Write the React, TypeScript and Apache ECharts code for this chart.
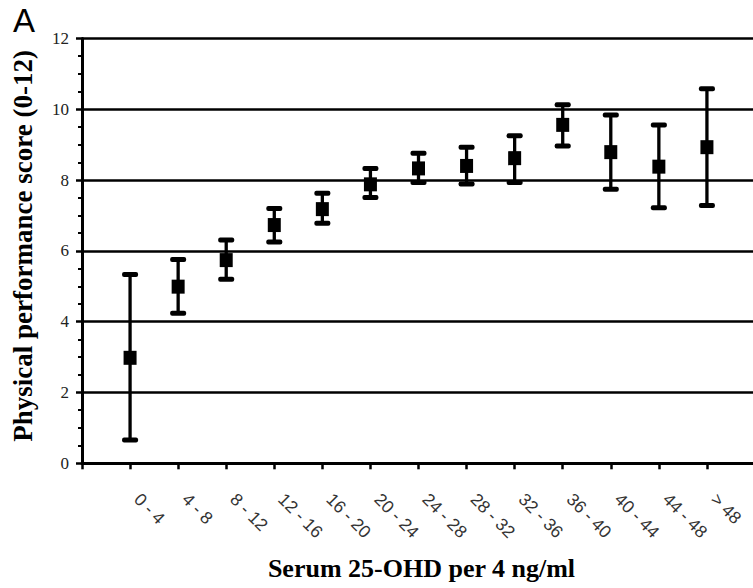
import React, { useEffect, useRef } from "react";
import * as echarts from "echarts";

const categories = ["0 - 4", "4 - 8", "8 - 12", "12 - 16", "16 - 20", "20 - 24", "24 - 28", "28 - 32", "32 - 36", "36 - 40", "40 - 44", "44 - 48", "> 48"];
const means = [2.98, 4.99, 5.74, 6.73, 7.18, 7.88, 8.33, 8.4, 8.62, 9.56, 8.79, 8.38, 8.93];
const lowers = [0.66, 4.24, 5.2, 6.25, 6.78, 7.51, 7.93, 7.89, 7.93, 8.96, 7.74, 7.22, 7.28];
const uppers = [5.33, 5.76, 6.31, 7.2, 7.63, 8.33, 8.76, 8.93, 9.25, 10.13, 9.84, 9.56, 10.58];

const yLabel = "Physical performance score (0-12)";
const xLabel = "Serum 25-OHD per 4 ng/ml";
const panelLetter = "A";

const SERIF = "Liberation Serif";
const SANS = "Liberation Sans";

export default function App() {
  const ref = useRef<HTMLDivElement>(null);
  useEffect(() => {
    if (!ref.current) return;
    const chart = echarts.init(ref.current, undefined, { renderer: "svg" });
    const option: any = {
      animation: false,
      backgroundColor: "#fff",
      graphic: [
        {
          type: "text",
          left: 13,
          top: 4,
          style: { text: panelLetter, font: `33px ${SANS}`, fill: "#000" },
        },
      ],
      grid: {
        left: 82,
        top: 38.5,
        width: 673,
        height: 424.8,
        containLabel: false,
        outerBoundsMode: "none",
      },
      xAxis: {
        type: "value",
        min: 0,
        max: 14,
        interval: 1,
        name: xLabel,
        nameLocation: "middle",
        nameGap: 92,
        nameTextStyle: { fontFamily: SERIF, fontWeight: "bold", fontSize: 26, color: "#000", padding: [0, 0, 0, 6] },
        axisLine: { show: true, onZero: false, lineStyle: { color: "#000", width: 3 } },
        axisTick: { show: true, length: 6, lineStyle: { color: "#000", width: 2.5 } },
        splitLine: { show: false },
        axisLabel: {
          rotate: -45,
          margin: 26,
          padding: [0, 0, 0, 10],
          fontFamily: SANS,
          fontSize: 17.5,
          color: "#333",
          formatter: (v: number) => (v >= 1 && v <= categories.length ? categories[v - 1] : ""),
        },
      },
      yAxis: {
        type: "value",
        min: 0,
        max: 12,
        interval: 2,
        name: yLabel,
        nameLocation: "middle",
        nameGap: 46,
        nameTextStyle: { fontFamily: SERIF, fontWeight: "bold", fontSize: 27, color: "#000", padding: [0, 0, 0, 10] },
        axisLine: { show: true, lineStyle: { color: "#000", width: 3 } },
        axisTick: { show: true, length: 6, lineStyle: { color: "#000", width: 2.5 } },
        minorTick: { show: true, splitNumber: 4, length: 4, lineStyle: { color: "#000", width: 2 } },
        splitLine: { show: true, lineStyle: { color: "#000", width: 2.5 } },
        axisLabel: { fontFamily: SERIF, fontSize: 17, color: "#222", margin: 13 },
      },
      series: [
        {
          type: "custom",
          data: lowers.map((l, i) => [i + 1, l, uppers[i]]),
          encode: { x: 0, y: [1, 2] },
          z: 2,
          renderItem: (params: any, api: any) => {
            const lo = api.coord([api.value(0), api.value(1)]);
            const hi = api.coord([api.value(0), api.value(2)]);
            const cw = 16;
            const ch = 5;
            return {
              type: "group",
              children: [
                {
                  type: "line",
                  shape: { x1: lo[0], y1: lo[1], x2: hi[0], y2: hi[1] },
                  style: { stroke: "#000", lineWidth: 3.3 },
                },
                {
                  type: "rect",
                  shape: { x: hi[0] - cw / 2, y: hi[1] - ch / 2, width: cw, height: ch, r: 2 },
                  style: { fill: "#000" },
                },
                {
                  type: "rect",
                  shape: { x: lo[0] - cw / 2, y: lo[1] - ch / 2, width: cw, height: ch, r: 2 },
                  style: { fill: "#000" },
                },
              ],
            };
          },
        },
        {
          type: "scatter",
          data: means.map((m, i) => [i + 1, m]),
          symbol: "rect",
          symbolSize: [13, 14],
          itemStyle: { color: "#000", opacity: 1 },
          z: 3,
        },
      ],
    };
    chart.setOption(option);
    return () => chart.dispose();
  }, []);
  return (
    <div
      ref={ref}
      style={{ position: "fixed", left: 0, top: 0, width: 753, height: 588 }}
    />
  );
}
